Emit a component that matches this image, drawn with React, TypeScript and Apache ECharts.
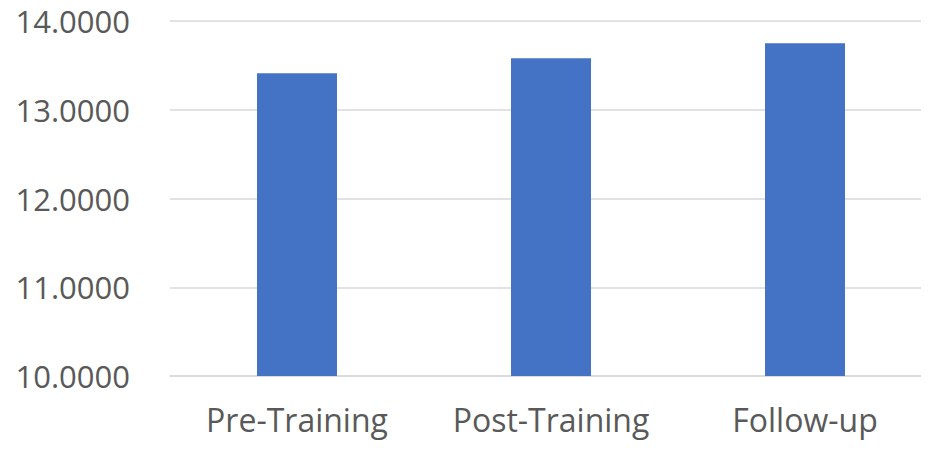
import React, { useEffect, useRef } from "react";
import * as echarts from "echarts";

const categories = ["Pre-Training", "Post-Training", "Follow-up"];
const scores = [13.41, 13.58, 13.75];
const yMin = 10;
const yMax = 14;
const yStep = 1;

export default function App() {
  const ref = useRef<HTMLDivElement>(null);

  useEffect(() => {
    if (!ref.current) return;
    const chart = echarts.init(ref.current, null, { renderer: "svg" });
    const font = "'Open Sans', sans-serif";
    chart.setOption({
      animation: false,
      grid: {
        left: 170,
        width: 762,
        top: 21,
        bottom: 74,
        containLabel: false,
        outerBoundsMode: "none",
      },
      xAxis: {
        type: "category",
        data: categories,
        axisLine: { show: true, lineStyle: { color: "#d9d9d9", width: 1.5 } },
        axisTick: { show: false },
        axisLabel: {
          interval: 0,
          color: "#595959",
          fontSize: 32,
          fontFamily: font,
          margin: 27,
        },
      },
      yAxis: {
        type: "value",
        min: yMin,
        max: yMax,
        interval: yStep,
        axisLine: { show: false },
        axisTick: { show: false },
        splitLine: { lineStyle: { color: "#d9d9d9", width: 1.5 } },
        axisLabel: {
          color: "#595959",
          fontSize: 31,
          fontFamily: font,
          margin: 40,
          formatter: (v: number) => v.toFixed(4),
        },
      },
      series: [
        {
          type: "bar",
          data: scores,
          barWidth: 80,
          itemStyle: { color: "#4472c4" },
        },
      ],
    });
    return () => chart.dispose();
  }, []);

  return <div ref={ref} style={{ width: 929, height: 450, margin: -8 }} />;
}
